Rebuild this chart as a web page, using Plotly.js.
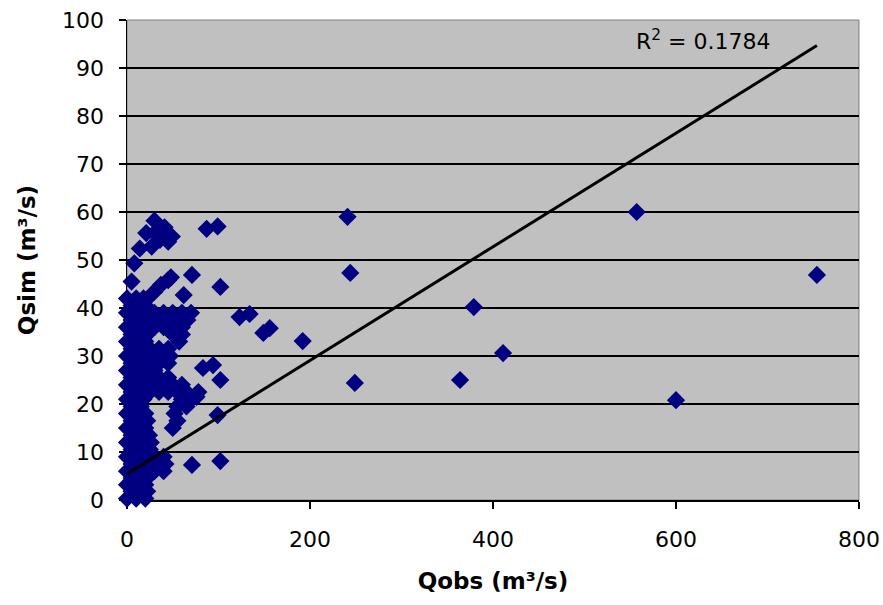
<!DOCTYPE html>
<html>
<head>
<meta charset="utf-8">
<script src="https://cdn.plot.ly/plotly-3.0.1.min.js"></script>
<style>html,body{margin:0;padding:0;background:#fff;}#chart{width:883px;height:605px;}</style>
</head>
<body>
<div id="chart"></div>
<script>
const qobs = [
  0,10,20, 5,15,22, 0,10,20, 5,15,22,
  0,10,20,30,40, 5,15,25,35,42, 0,10,20,30,40,
  5,15,25, 0,10,20,26, 5,15,24,
  0,10,20,50, 5,15,22,55, 0,10,20,52,
  5,15,55,65, 0,10,18,60,70,
  5,15,25,35,45,55,65,78, 0,10,20,30,40,50,60, 5,15,25,35,45, 0,10,20,30,
  5,15,25,35,45, 0,10,20,30,40,47, 5,15,25,35,45,
  0,10,20,57, 5,15,22,50,60,
  0,10,20,30,40,50,60, 5,15,25,35,45,55,66, 0,10,20,30,40,50,60,70,
  5,15,20, 0,10,18,
  21,30,37,45,48, 5,8,14,27,21,30,41,49,30,36,45,
  87,99,71,102,62,123,134,149,156,192,241,244,249,83,94,102,76,99,71,102,
  364,379,411,557,600,754
];
const qsim = [
  0.3,0.3,0.3, 1.8,1.8,1.8, 3.2,3.2,3.2, 4.6,4.6,4.6,
  6,6,6,6,6, 7.5,7.5,7.5,7.5,7.5, 9,9,9,9,9,
  10.5,10.5,10.5, 12,12,12,12, 13.5,13.5,13.5,
  15,15,15,15, 16.5,16.5,16.5,16.5, 18,18,18,18,
  19.5,19.5,19.5,19.5, 21,21,21,21,21,
  22.5,22.5,22.5,22.5,22.5,22.5,22.5,22.5, 24,24,24,24,24,24,24, 25.5,25.5,25.5,25.5,25.5, 27,27,27,27,
  28.5,28.5,28.5,28.5,28.5, 30,30,30,30,30,30, 31.5,31.5,31.5,31.5,31.5,
  33,33,33,33, 34.5,34.5,34.5,34.5,34.5,
  36,36,36,36,36,36,36, 37.5,37.5,37.5,37.5,37.5,37.5,37.5, 39,39,39,39,39,39,39,39,
  40.5,40.5,40.5, 42,42,42,
  41.7,43.4,44.8,45.8,46.4, 45.5,49.3,52.4,52.8,55.6,58.2,56.8,54.9,55.6,54.2,53.8,
  56.5,57,46.9,44.4,42.7,38.1,38.75,34.8,35.8,33.1,59,47.3,24.4,27.5,28.1,25,21.5,17.7,7.3,8.1,
  25,40.2,30.6,60,20.8,46.9
];
// Linear trendline
const trendSlope = 0.1184;
const trendIntercept = 5.4;
const r2Label = 'R<sup>2</sup> = 0.1784';
const xTickVals = [0, 200, 400, 600, 800];
const yTickVals = [0, 10, 20, 30, 40, 50, 60, 70, 80, 90, 100];

const xMin = Math.min(...qobs), xMax = Math.max(...qobs);
const trendX = [xMin, xMax];
const trendY = trendX.map(v => trendIntercept + trendSlope * v);

const tickFont = {family: 'DejaVu Sans, sans-serif', size: 22, color: '#000'};
const titleFont = {family: 'DejaVu Sans, sans-serif', size: 23, color: '#000', weight: 'bold'};

const data = [
  {
    x: qobs, y: qsim, type: 'scatter', mode: 'markers', cliponaxis: false,
    marker: {symbol: 'diamond', size: 14, color: '#000080', line: {width: 0}},
    hoverinfo: 'skip'
  },
  {
    x: trendX, y: trendY, type: 'scatter', mode: 'lines', cliponaxis: false,
    line: {color: '#000000', width: 3}, hoverinfo: 'skip'
  }
];

const layout = {
  width: 883, height: 605,
  margin: {l: 127, r: 24, t: 20, b: 105, pad: 0},
  paper_bgcolor: '#ffffff',
  plot_bgcolor: '#c0c0c0',
  showlegend: false,
  xaxis: {
    range: [0, 800], tickvals: xTickVals, ticktext: xTickVals.map(String),
    showgrid: false, zeroline: false,
    showline: true, linecolor: '#000', linewidth: 1.5,
    ticks: 'outside', ticklen: 7, tickwidth: 1.5, tickcolor: '#000',
    tickfont: tickFont, ticklabelstandoff: 12,
    layer: 'below traces',
    title: {text: 'Qobs (m³/s)', font: titleFont, standoff: 22}
  },
  yaxis: {
    range: [0, 100], tickvals: yTickVals, ticktext: yTickVals.map(String),
    showgrid: true, gridcolor: '#000', gridwidth: 2, zeroline: false,
    showline: true, linecolor: '#000', linewidth: 1.5,
    ticks: 'outside', ticklen: 7, tickwidth: 1.5, tickcolor: '#000',
    tickfont: tickFont, ticklabelstandoff: 10,
    layer: 'below traces',
    title: {text: 'Qsim (m³/s)', font: titleFont, standoff: 20}
  },
  shapes: [
    {type: 'rect', xref: 'paper', yref: 'paper', x0: 0, x1: 1, y0: 0, y1: 1,
     line: {color: '#808080', width: 1}, fillcolor: 'rgba(0,0,0,0)', layer: 'below'}
  ],
  annotations: [
    {xref: 'paper', yref: 'paper', x: 0.787, y: 0.958, text: r2Label, showarrow: false,
     font: {family: 'DejaVu Sans, sans-serif', size: 22, color: '#000'}, xanchor: 'center', yanchor: 'middle'}
  ]
};

Plotly.newPlot('chart', data, layout, {staticPlot: true, displayModeBar: false});
</script>
</body>
</html>
